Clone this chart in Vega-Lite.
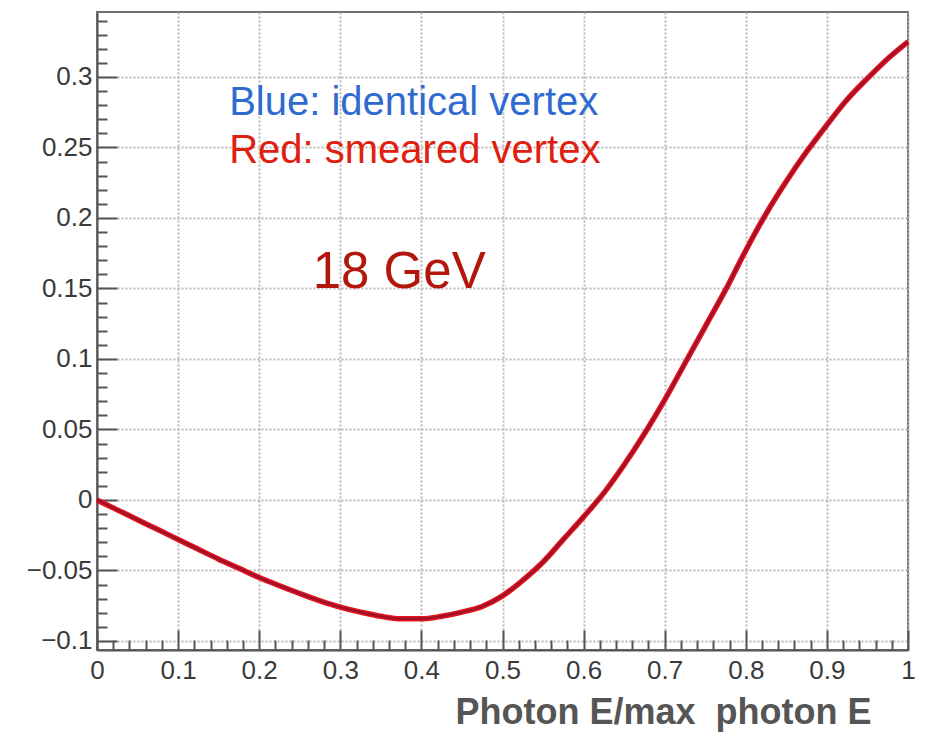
{
  "$schema": "https://vega.github.io/schema/vega-lite/v6.json",
  "width": 811,
  "height": 638,
  "autosize": {"type": "none"},
  "padding": {"left": 97, "top": 12, "right": 32, "bottom": 83},
  "background": "white",
  "config": {
    "view": {"stroke": "#707070", "strokeWidth": 2},
    "font": "Liberation Sans"
  },
  "datasets": {
    "curve": [
      {"x": 0, "y": 0},
      {"x": 0.025, "y": -0.007},
      {"x": 0.05, "y": -0.014},
      {"x": 0.075, "y": -0.021},
      {"x": 0.1, "y": -0.028},
      {"x": 0.125, "y": -0.035},
      {"x": 0.15, "y": -0.042},
      {"x": 0.175, "y": -0.0485},
      {"x": 0.2, "y": -0.055},
      {"x": 0.225, "y": -0.0608},
      {"x": 0.25, "y": -0.0663},
      {"x": 0.275, "y": -0.0715},
      {"x": 0.3, "y": -0.0760},
      {"x": 0.325, "y": -0.0795},
      {"x": 0.35, "y": -0.0825},
      {"x": 0.375, "y": -0.0843},
      {"x": 0.4, "y": -0.0843},
      {"x": 0.425, "y": -0.0825},
      {"x": 0.45, "y": -0.0795},
      {"x": 0.475, "y": -0.0755},
      {"x": 0.5, "y": -0.068},
      {"x": 0.525, "y": -0.057},
      {"x": 0.55, "y": -0.044},
      {"x": 0.575, "y": -0.028},
      {"x": 0.6, "y": -0.012},
      {"x": 0.625, "y": 0.005},
      {"x": 0.65, "y": 0.025},
      {"x": 0.675, "y": 0.047},
      {"x": 0.7, "y": 0.071},
      {"x": 0.725, "y": 0.097},
      {"x": 0.75, "y": 0.123},
      {"x": 0.775, "y": 0.149},
      {"x": 0.8, "y": 0.177},
      {"x": 0.825, "y": 0.203},
      {"x": 0.85, "y": 0.226},
      {"x": 0.875, "y": 0.247},
      {"x": 0.9, "y": 0.266},
      {"x": 0.925, "y": 0.284},
      {"x": 0.95, "y": 0.299},
      {"x": 0.975, "y": 0.313},
      {"x": 1.0, "y": 0.325}
    ]
  },
  "encoding": {
    "x": {
      "field": "x", "type": "quantitative",
      "scale": {"domain": [0, 1], "nice": false, "zero": false},
      "axis": {
        "values": [0,0.02,0.04,0.06,0.08,0.1,0.12,0.14,0.16,0.18,0.2,0.22,0.24,0.26,0.28,0.3,0.32,0.34,0.36,0.38,0.4,0.42,0.44,0.46,0.48,0.5,0.52,0.54,0.56,0.58,0.6,0.62,0.64,0.66,0.68,0.7,0.72,0.74,0.76,0.78,0.8,0.82,0.84,0.86,0.88,0.9,0.92,0.94,0.96,0.98,1],
        "labelExpr": "round(datum.value*100) % 10 == 0 ? format(datum.value, '.1~f') : ''",
        "labelOverlap": false,
        "labelFlush": false,
        "labelFontSize": 26,
        "labelColor": "#3a3a3a",
        "labelPadding": 27,
        "tickSize": {"condition": {"test": "round(datum.value*100) % 10 == 0", "value": -20}, "value": -10},
        "tickColor": "#555555",
        "tickWidth": 2,
        "domainColor": "#555555",
        "domainWidth": 2,
        "grid": true,
        "gridColor": "#b8b8b8",
        "gridDash": [2, 2],
        "gridWidth": 2,
        "gridOpacity": {"condition": {"test": "round(datum.value*100) % 10 == 0", "value": 1}, "value": 0},
        "title": "Photon E/max\u00a0 photon E",
        "titleFontSize": 36,
        "titleFontWeight": "bold",
        "titleColor": "#555555",
        "titleAnchor": "start",
        "titleAlign": "center",
        "titleX": 566,
        "titleY": 73,
        "titleBaseline": "alphabetic"
      }
    },
    "y": {
      "field": "y", "type": "quantitative",
      "scale": {"domain": [-0.1064, 0.3461], "nice": false, "zero": false},
      "axis": {
        "values": [-0.1,-0.09,-0.08,-0.07,-0.06,-0.05,-0.04,-0.03,-0.02,-0.01,0,0.01,0.02,0.03,0.04,0.05,0.06,0.07,0.08,0.09,0.1,0.11,0.12,0.13,0.14,0.15,0.16,0.17,0.18,0.19,0.2,0.21,0.22,0.23,0.24,0.25,0.26,0.27,0.28,0.29,0.3,0.31,0.32,0.33,0.34],
        "labelExpr": "round(datum.value*100) % 5 == 0 ? format(datum.value, '.2~f') : ''",
        "labelOverlap": false,
        "labelFlush": false,
        "labelFontSize": 26,
        "labelColor": "#3a3a3a",
        "labelPadding": 25,
        "tickSize": {"condition": {"test": "round(datum.value*100) % 5 == 0", "value": -20}, "value": -10},
        "tickColor": "#555555",
        "tickWidth": 2,
        "domainColor": "#555555",
        "domainWidth": 2,
        "grid": true,
        "gridColor": "#b8b8b8",
        "gridDash": [2, 2],
        "gridWidth": 2,
        "gridOpacity": {"condition": {"test": "round(datum.value*100) % 5 == 0", "value": 1}, "value": 0},
        "title": null
      }
    }
  },
  "layer": [
    {
      "data": {"name": "curve"},
      "mark": {"type": "line", "color": "#e3141c", "strokeWidth": 5.5, "interpolate": "monotone"}
    },
    {
      "data": {"name": "curve"},
      "mark": {"type": "line", "color": "#a0102c", "strokeWidth": 2.5, "interpolate": "monotone"}
    },
    {
      "data": {"values": [{"x": 0.163, "y": 0.273, "label": "Blue: identical vertex"}]},
      "mark": {"type": "text", "align": "left", "baseline": "alphabetic", "fontSize": 40, "color": "#2e6bcf"},
      "encoding": {"text": {"field": "label"}}
    },
    {
      "data": {"values": [{"x": 0.163, "y": 0.239, "label": "Red: smeared vertex"}]},
      "mark": {"type": "text", "align": "left", "baseline": "alphabetic", "fontSize": 40, "color": "#e0200f"},
      "encoding": {"text": {"field": "label"}}
    },
    {
      "data": {"values": [{"x": 0.266, "y": 0.150, "label": "18 GeV"}]},
      "mark": {"type": "text", "align": "left", "baseline": "alphabetic", "fontSize": 51, "color": "#b3170c"},
      "encoding": {"text": {"field": "label"}}
    }
  ]
}
